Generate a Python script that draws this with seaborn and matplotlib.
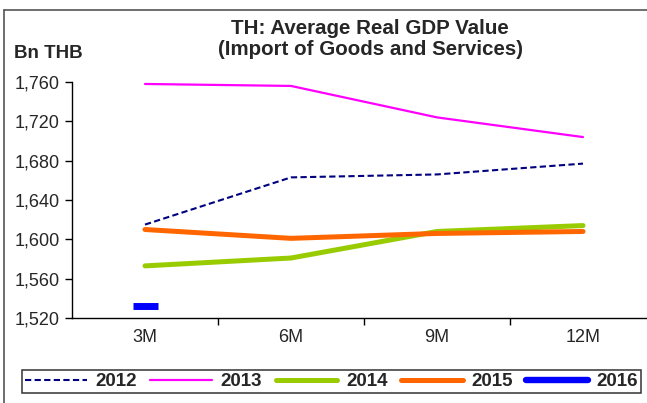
import matplotlib
matplotlib.use("Agg")
import matplotlib.pyplot as plt
from matplotlib.lines import Line2D
import pandas as pd
import seaborn as sns

# Average real GDP value, imports of goods and services (Bn THB)
periods = ["3M", "6M", "9M", "12M"]
years = ["2012", "2013", "2014", "2015", "2016"]
v2012 = [1615, 1663, 1666, 1677]
v2013 = [1758, 1756, 1724, 1704]
v2014 = [1573, 1581, 1608, 1614]
v2015 = [1610, 1601, 1606, 1608]
v2016 = [1532]
yticks = [1520, 1560, 1600, 1640, 1680, 1720, 1760]

series = {"2012": v2012, "2013": v2013, "2014": v2014, "2015": v2015, "2016": v2016}
rows = []
for yr, vals in series.items():
    for i, v in enumerate(vals):
        rows.append({"year": yr, "pos": i, "period": periods[i], "value": v})
df = pd.DataFrame(rows)

styles = {
    "2012": dict(color="#000080", lw=1.5, dashes=(3, 1.6)),
    "2013": dict(color="#FF00FF", lw=1.6, dashes=None),
    "2014": dict(color="#99CC00", lw=3.6, dashes=None),
    "2015": dict(color="#FF6600", lw=3.6, dashes=None),
    "2016": dict(color="#0000FF", lw=4.6, dashes=None),
}

sns.set_theme(style="white")
plt.rcParams["font.family"] = ["Liberation Sans", "DejaVu Sans"]

W, H = 647, 403
fig = plt.figure(figsize=(W / 100, H / 100), dpi=100)
fig.patch.set_facecolor("white")
ax = fig.add_axes([72 / W, 1 - 318 / H, 584 / W, 236 / H])

for yr in years:
    d = df[df["year"] == yr]
    st = styles[yr]
    if len(d) > 1:
        sns.lineplot(data=d, x="pos", y="value", ax=ax, color=st["color"],
                     linewidth=st["lw"], legend=False, sort=False,
                     solid_capstyle="round")
        line = ax.lines[-1]
        if st["dashes"]:
            line.set_dashes(st["dashes"])
    else:
        sns.lineplot(data=d, x="pos", y="value", ax=ax, color=st["color"],
                     marker="_", markersize=18, markeredgewidth=st["lw"] + 0.4,
                     markeredgecolor=st["color"], legend=False)

ax.set_xlim(-0.5, 3.5)
ax.set_ylim(1520, 1760)
ax.set_yticks(yticks)
ax.set_yticklabels([f"{t:,}" for t in yticks], fontsize=13)
ax.set_xticks(range(len(periods)))
ax.set_xticklabels(periods, fontsize=13)
ax.set_xticks([0.5, 1.5, 2.5], minor=True)
ax.tick_params(axis="x", which="major", length=0, pad=8)
ax.tick_params(axis="x", which="minor", length=5, width=1, color="black", direction="out", bottom=True)
ax.tick_params(axis="y", length=5, width=1, color="black", direction="out", left=True, pad=4)
ax.set_xlabel("")
ax.set_ylabel("")
for s in ["top", "right"]:
    ax.spines[s].set_visible(False)
for s in ["left", "bottom"]:
    ax.spines[s].set_color("black")
    ax.spines[s].set_linewidth(1)
ax.set_facecolor("white")

fig.text(370 / W, 1 - 29 / H, "TH: Average Real GDP Value", ha="center", va="center",
         fontsize=14.8, fontweight="bold")
fig.text(370 / W, 1 - 49.5 / H, "(Import of Goods and Services)", ha="center", va="center",
         fontsize=14.8, fontweight="bold")
fig.text(14 / W, 1 - 53 / H, "Bn THB", ha="left", va="center", fontsize=13.5, fontweight="bold")

handles = []
for yr in years:
    st = styles[yr]
    h = Line2D([0], [0], color=st["color"], lw=st["lw"], solid_capstyle="round")
    if st["dashes"]:
        h.set_dashes(st["dashes"])
    handles.append(h)
leg = fig.legend(handles, years, loc="center", bbox_to_anchor=(331.5 / W, 1 - 381.8 / H),
                 ncol=5, frameon=True, fancybox=False, borderpad=0.15,
                 handlelength=3.3, handletextpad=0.45, columnspacing=0.72,
                 prop={"size": 13.5, "weight": "bold"})
leg.get_frame().set_edgecolor("black")
leg.get_frame().set_linewidth(1.1)

# outer chart frame
fig.add_artist(Line2D([4 / W, 4 / W], [0, 1 - 10 / H], color="#555555", lw=1.2,
                      transform=fig.transFigure))
fig.add_artist(Line2D([4 / W, 1], [1 - 10 / H, 1 - 10 / H], color="#555555", lw=1.2,
                      transform=fig.transFigure))

fig.savefig("out.png", dpi=100, facecolor="white")
